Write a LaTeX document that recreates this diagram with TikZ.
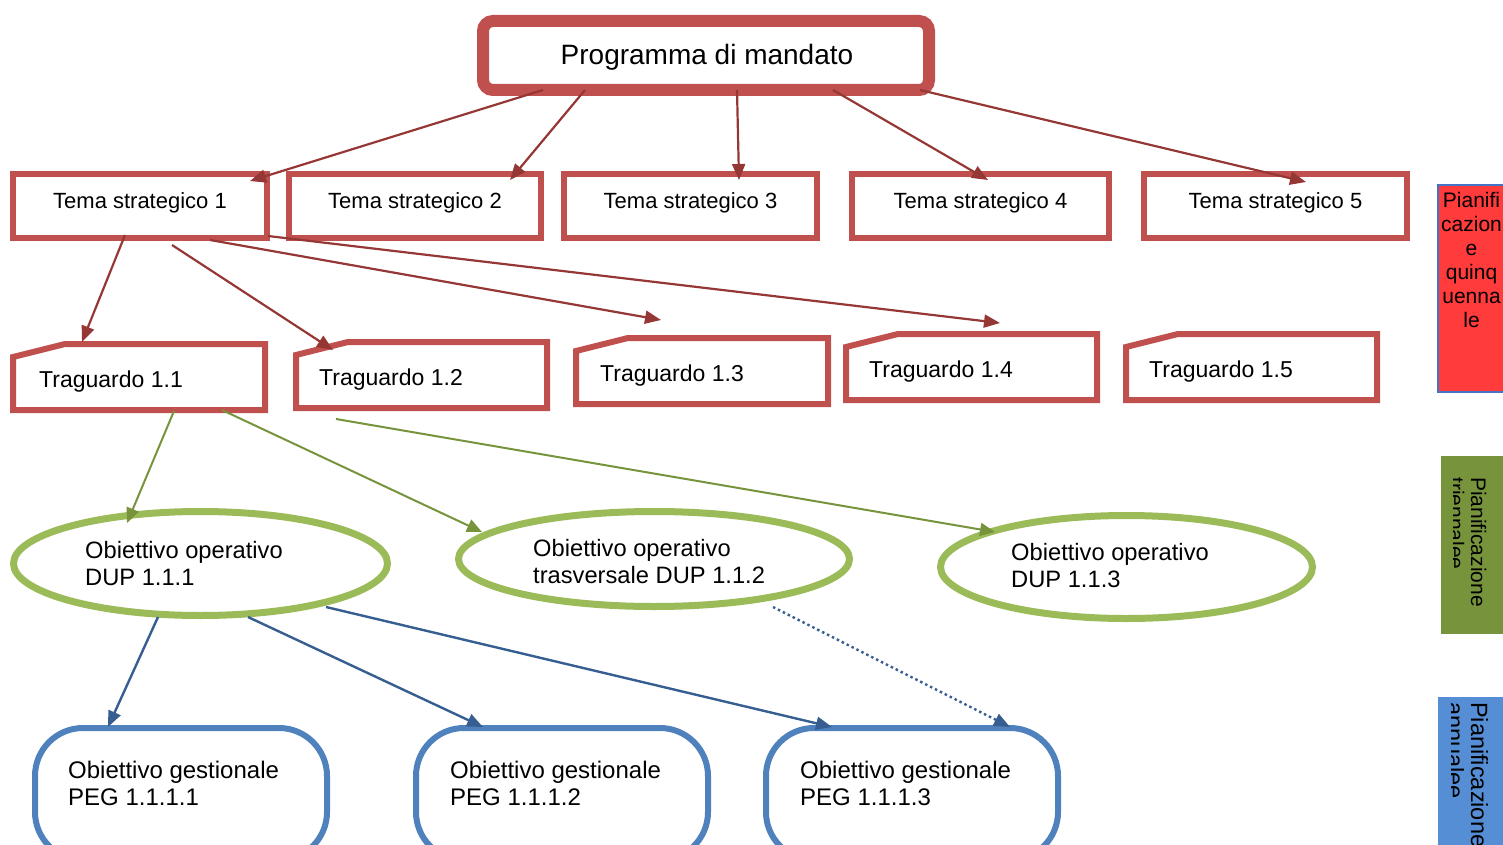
\documentclass[tikz,border=0pt]{standalone}
\usepackage{fontspec}
\setmainfont{Liberation Sans}
\usetikzlibrary{arrows.meta,calc,shapes.geometric}
\definecolor{boxred}{RGB}{192,80,77}
\definecolor{arrred}{RGB}{149,55,53}
\definecolor{ellgreen}{RGB}{155,187,89}
\definecolor{arrgreen}{RGB}{119,147,60}
\definecolor{boxblue}{RGB}{79,129,189}
\definecolor{arrblue}{RGB}{54,94,145}
\definecolor{sidered}{RGB}{255,59,59}
\definecolor{sidegreen}{RGB}{119,147,60}
\definecolor{sideblue}{RGB}{85,142,213}
\definecolor{sideborder}{RGB}{68,114,196}
\begin{document}
\begin{tikzpicture}[x=1pt,y=-1pt,
  box/.style={inner sep=0pt, outer sep=0pt},
  progbox/.style={box, draw=boxred, line width=12pt, rounded corners=10pt, minimum width=446pt, minimum height=69pt},
  temabox/.style={box, draw=boxred, line width=6pt, minimum height=64pt},
  tragshape/.style={box, minimum height=66pt},
  tragline/.style={draw=boxred, line width=6pt, line join=miter},
  ellbox/.style={box, ellipse, draw=ellgreen, line width=7pt},
  pegbox/.style={box, draw=boxblue, line width=6pt, rounded corners=48pt, minimum width=292pt, minimum height=132pt},
  txtP/.style={inner sep=0pt, font=\fontsize{28}{32}\selectfont},
  txtT/.style={inner sep=0pt, font=\fontsize{22}{26}\selectfont},
  txtG/.style={inner sep=0pt, anchor=base west, font=\fontsize{23}{27}\selectfont},
  txtO/.style={inner sep=0pt, anchor=west, align=left, font=\fontsize{23.7}{27.5}\selectfont},
  txtE/.style={inner sep=0pt, anchor=west, align=left, font=\fontsize{24}{27}\selectfont},
  sidetxt/.style={inner sep=0pt, font=\fontsize{21}{24}\selectfont},
  sidetxtb/.style={inner sep=0pt, font=\fontsize{23.5}{26}\selectfont},
  redarrow/.style={draw=arrred, line width=2.2pt, -{Triangle[length=16pt,width=13pt]}},
  greenarrow/.style={draw=arrgreen, line width=2pt, -{Triangle[length=15pt,width=13pt]}},
  bluearrow/.style={draw=arrblue, line width=2.4pt, -{Triangle[length=16pt,width=13pt]}},
  dotarrow/.style={draw=arrblue, line width=2.4pt, dash pattern=on 2.5pt off 3pt, -{Triangle[length=16pt,width=13pt]}},
]
\useasboundingbox (0,0) rectangle (1503,845);
\clip (0,0) rectangle (1503,845);

% top
\node[progbox] (prog) at (706,55.5) {};
\node[txtP, anchor=base] (progt) at (707,65) {Programma di mandato};

% temi
\node[temabox, minimum width=254pt] (t1) at (140,206) {};
\node[temabox, minimum width=252pt] (t2) at (415,206) {};
\node[temabox, minimum width=253pt] (t3) at (690.5,206) {};
\node[temabox, minimum width=257pt] (t4) at (980.5,206) {};
\node[temabox, minimum width=263pt] (t5) at (1275.5,206) {};
\node[txtT, anchor=base] (t1t) at (140,208) {Tema strategico 1};
\node[txtT, anchor=base] (t2t) at (415,208) {Tema strategico 2};
\node[txtT, anchor=base] (t3t) at (690.5,208) {Tema strategico 3};
\node[txtT, anchor=base] (t4t) at (980.5,208) {Tema strategico 4};
\node[txtT, anchor=base] (t5t) at (1275.5,208) {Tema strategico 5};

% traguardi
\node[tragshape, minimum width=252pt] (g11) at (139,377) {};
\node[tragshape, minimum width=251pt] (g12) at (421.5,375) {};
\node[tragshape, minimum width=252pt] (g13) at (702,371) {};
\node[tragshape, minimum width=251pt] (g14) at (971.5,367) {};
\node[tragshape, minimum width=251pt] (g15) at (1251.5,367) {};
\foreach \g in {g11,g12,g13,g14,g15}{
  \draw[tragline] ($(\g.north west)+(0,13)$) -- ($(\g.north west)+(52,0)$) -- (\g.north east) -- (\g.south east) -- (\g.south west) -- cycle;
}
\node[txtG] (g11t) at (39,387) {Traguardo 1.1};
\node[txtG] (g12t) at (319,385) {Traguardo 1.2};
\node[txtG] (g13t) at (600,381) {Traguardo 1.3};
\node[txtG] (g14t) at (869,377) {Traguardo 1.4};
\node[txtG] (g15t) at (1149,377) {Traguardo 1.5};

% obiettivi operativi
\node[ellbox, minimum width=374pt, minimum height=104pt] (e1) at (200.5,563.5) {};
\node[ellbox, minimum width=391pt, minimum height=95pt] (e2) at (654,559) {};
\node[ellbox, minimum width=372pt, minimum height=103pt] (e3) at (1126.5,567) {};
\node[txtO] (e1t) at (85,563.5) {Obiettivo operativo\\DUP 1.1.1};
\node[txtO] (e2t) at (533,561.5) {Obiettivo operativo\\trasversale DUP 1.1.2};
\node[txtO] (e3t) at (1011,565.5) {Obiettivo operativo\\DUP 1.1.3};

% obiettivi gestionali
\node[pegbox] (p1) at (181,794) {};
\node[pegbox] (p2) at (562,794) {};
\node[pegbox] (p3) at (912,794) {};
\node[txtE] (p1t) at (68,783) {Obiettivo gestionale\\PEG 1.1.1.1};
\node[txtE] (p2t) at (450,783) {Obiettivo gestionale\\PEG 1.1.1.2};
\node[txtE] (p3t) at (800,783) {Obiettivo gestionale\\PEG 1.1.1.3};

% side boxes
\node[box, fill=sidered, draw=sideborder, line width=2pt, minimum width=90pt, minimum height=207pt, anchor=north west] (sr) at (1438,185) {};
\foreach \t [count=\i] in {Pianifi,cazion,e,quinq,uenna,le}{
  \node[sidetxt, anchor=base] (sr\i) at (1471.5,{207+24*(\i-1)}) {\t};
}
\node[box, fill=sidegreen, minimum width=80pt, minimum height=178pt, anchor=north west] (sg) at (1441,456) {};
\node[box, fill=sideblue, minimum width=80pt, minimum height=170pt, anchor=north west] (sb) at (1438,697) {};
\begin{scope}
  \clip (1453,456) rectangle (1503,634);
  \node[sidetxt, rotate=-90, anchor=base west] (sg1) at (1471,477) {Pianificazione};
  \node[sidetxt, rotate=-90, anchor=base west] (sg2) at (1449,477) {triennalee};
\end{scope}
\begin{scope}
  \clip (1451,697) rectangle (1503,845);
  \node[sidetxtb, rotate=-90, anchor=base west] (sb1) at (1471,702) {Pianificazione};
  \node[sidetxtb, rotate=-90, anchor=base west] (sb2) at (1447,702) {annualee};
\end{scope}

% arrows from programma
\draw[redarrow] ($(prog)+(-163,34.5)$) -- ($(t1)+(110,-25)$);
\draw[redarrow] ($(prog)+(-121,34.5)$) -- ($(t2)+(95,-26)$);
\draw[redarrow] ($(prog)+(31,34.5)$) -- ($(t3)+(48.5,-26)$);
\draw[redarrow] ($(prog)+(127,34.5)$) -- ($(t4)+(7.5,-26)$);
\draw[redarrow] ($(prog)+(214,34.5)$) -- ($(t5)+(30.5,-24)$);

% arrows from tema 1
\draw[redarrow] ($(t1)+(-15,29)$) -- ($(g11)+(-57,-35)$);
\draw[redarrow] ($(t1)+(32,39)$) -- ($(g12)+(-88.5,-25)$);
\draw[redarrow] ($(t1)+(70,34)$) -- ($(g13)+(-41,-51)$);
\draw[redarrow] ($(t1)+(128,30)$) -- ($(g14)+(28.5,-44)$);

% arrows from traguardo 1.1
\draw[greenarrow] ($(g11)+(35,34)$) -- ($(e1)+(-73.5,-40.5)$);
\draw[greenarrow] ($(g11)+(83,33)$) -- ($(e2)+(-172,-27)$);
\draw[greenarrow] ($(g11)+(197,42)$) -- ($(e3)+(-131.5,-35)$);

% arrows from obiettivo 1.1.1
\draw[bluearrow] ($(e1)+(-42.5,53.5)$) -- ($(p1)+(-73,-67)$);
\draw[bluearrow] ($(e1)+(47.5,53.5)$) -- ($(p2)+(-79,-67)$);
\draw[bluearrow] ($(e1)+(125.5,43.5)$) -- ($(p3)+(-80,-67)$);
\draw[dotarrow] ($(e2)+(119,48)$) -- ($(p3)+(98,-67)$);
\end{tikzpicture}
\end{document}
